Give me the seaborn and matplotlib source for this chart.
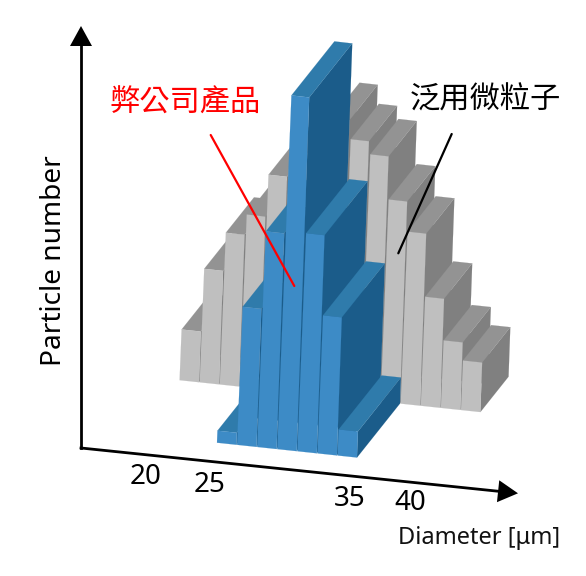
import matplotlib
matplotlib.use("Agg")
import matplotlib.pyplot as plt
import numpy as np
import seaborn as sns

# ---- data (counts in arbitrary units) ----
gray_diameter = [19.0, 20.5, 22.0, 23.5, 25.0, 26.5, 28.0, 29.5, 31.0, 32.5, 34.0, 35.5, 37.0, 38.5, 40.0]
gray_counts = [50.7, 113.5, 151.7, 172, 214, 240, 262, 277, 258, 245, 202, 172, 109, 67.5, 49.5]
blue_diameter = [25.0, 26.5, 28.0, 29.5, 31.0, 32.5, 34.0]
blue_counts = [12, 138, 215.6, 353.7, 218, 138, 26]
tick_labels = ["20", "25", "35", "40"]

# ---- layout of the oblique view ----
PX_PER_UM = 13.4
SLOPE = 0.106
DEPTH_VEC = (43.0, -54.0)
LEAN = 0.040
SHRINK = 0.0045
ORIGIN = (217.0, 442.7)
BAR_WIDTH = 1.445

sns.set_theme(style="white")
plt.rcParams["font.family"] = ["Noto Sans CJK TC", "Noto Sans", "DejaVu Sans"]
BLUE = dict(front="#3d8bc6", top="#2f7bab", side="#1b5c8a")
GRAY = dict(front="#bfbfbf", top="#939393", side="#808080")


def project(d, depth, h, right=False):
    dx = PX_PER_UM * (d - 25.0)
    x = ORIGIN[0] + dx + DEPTH_VEC[0] * depth + (LEAN - (SHRINK if right else 0.0)) * h
    y = ORIGIN[1] + SLOPE * dx + DEPTH_VEC[1] * depth - h
    return x, y


def draw_bar(ax, d, h, depth0, depth1, colors):
    d1 = d + BAR_WIDTH
    f_bl = project(d, depth0, 0)
    f_br = project(d1, depth0, 0, True)
    f_tl = project(d, depth0, h)
    f_tr = project(d1, depth0, h, True)
    b_br = project(d1, depth1, 0, True)
    b_tl = project(d, depth1, h)
    b_tr = project(d1, depth1, h, True)
    for pts, key in (
        ([f_br, b_br, b_tr, f_tr], "side"),
        ([f_tl, f_tr, b_tr, b_tl], "top"),
        ([f_bl, f_br, f_tr, f_tl], "front"),
    ):
        xs, ys = zip(*pts)
        ax.fill(xs, ys, color=colors[key], lw=0.1, zorder=2)


fig = plt.figure(figsize=(5.86, 5.76), dpi=100)
ax = fig.add_axes([0, 0, 1, 1])
ax.set_xlim(0, 586)
ax.set_ylim(576, 0)
ax.axis("off")

for d, h in zip(gray_diameter, gray_counts):
    draw_bar(ax, d, h, 1.0, 1.655, GRAY)
for d, h in zip(blue_diameter, blue_counts):
    draw_bar(ax, d, h, 0.0, 1.0, BLUE)


def arrow(start, tip, head_len=20, half=11):
    start, tip = np.array(start, float), np.array(tip, float)
    u = (tip - start) / np.linalg.norm(tip - start)
    n = np.array([-u[1], u[0]])
    base = tip - u * head_len
    ax.plot([start[0], base[0]], [start[1], base[1]], color="black", lw=2.0,
            solid_capstyle="projecting", zorder=3)
    tri = np.array([tip, base + n * half, base - n * half])
    ax.fill(tri[:, 0], tri[:, 1], color="black", lw=0, zorder=3)


arrow((81, 448), (81, 26))
arrow((81, 448), (518, 493.3))

for lab, x, y in zip(tick_labels, [146, 210, 350, 410], [476.5, 484.5, 498.5, 502.5]):
    ax.text(x, y, lab, fontsize=20, ha="center", va="center", color="black",
            family=["Noto Sans", "DejaVu Sans"], zorder=4)
ax.text(479.5, 537.5, "Diameter [μm]", fontsize=17, ha="center", va="center", color="#111111",
        family=["Noto Sans", "DejaVu Sans"])
ax.text(54, 261, "Particle number", fontsize=20.2, rotation=90, ha="center", va="center",
        color="black", family=["Noto Sans", "DejaVu Sans"])

ax.text(185, 103, "弊公司產品", fontsize=21.8, color="#ff0000", ha="center", va="center", zorder=4)
ax.text(485, 100, "泛用微粒子", fontsize=21.8, color="black", ha="center", va="center", zorder=4)
ax.plot([210.7, 294.3], [135, 286], color="#ff0000", lw=1.6, zorder=5)
ax.plot([451.7, 398.3], [134, 253.3], color="black", lw=1.6, zorder=5)

fig.savefig("out.png", dpi=100, facecolor="white")
